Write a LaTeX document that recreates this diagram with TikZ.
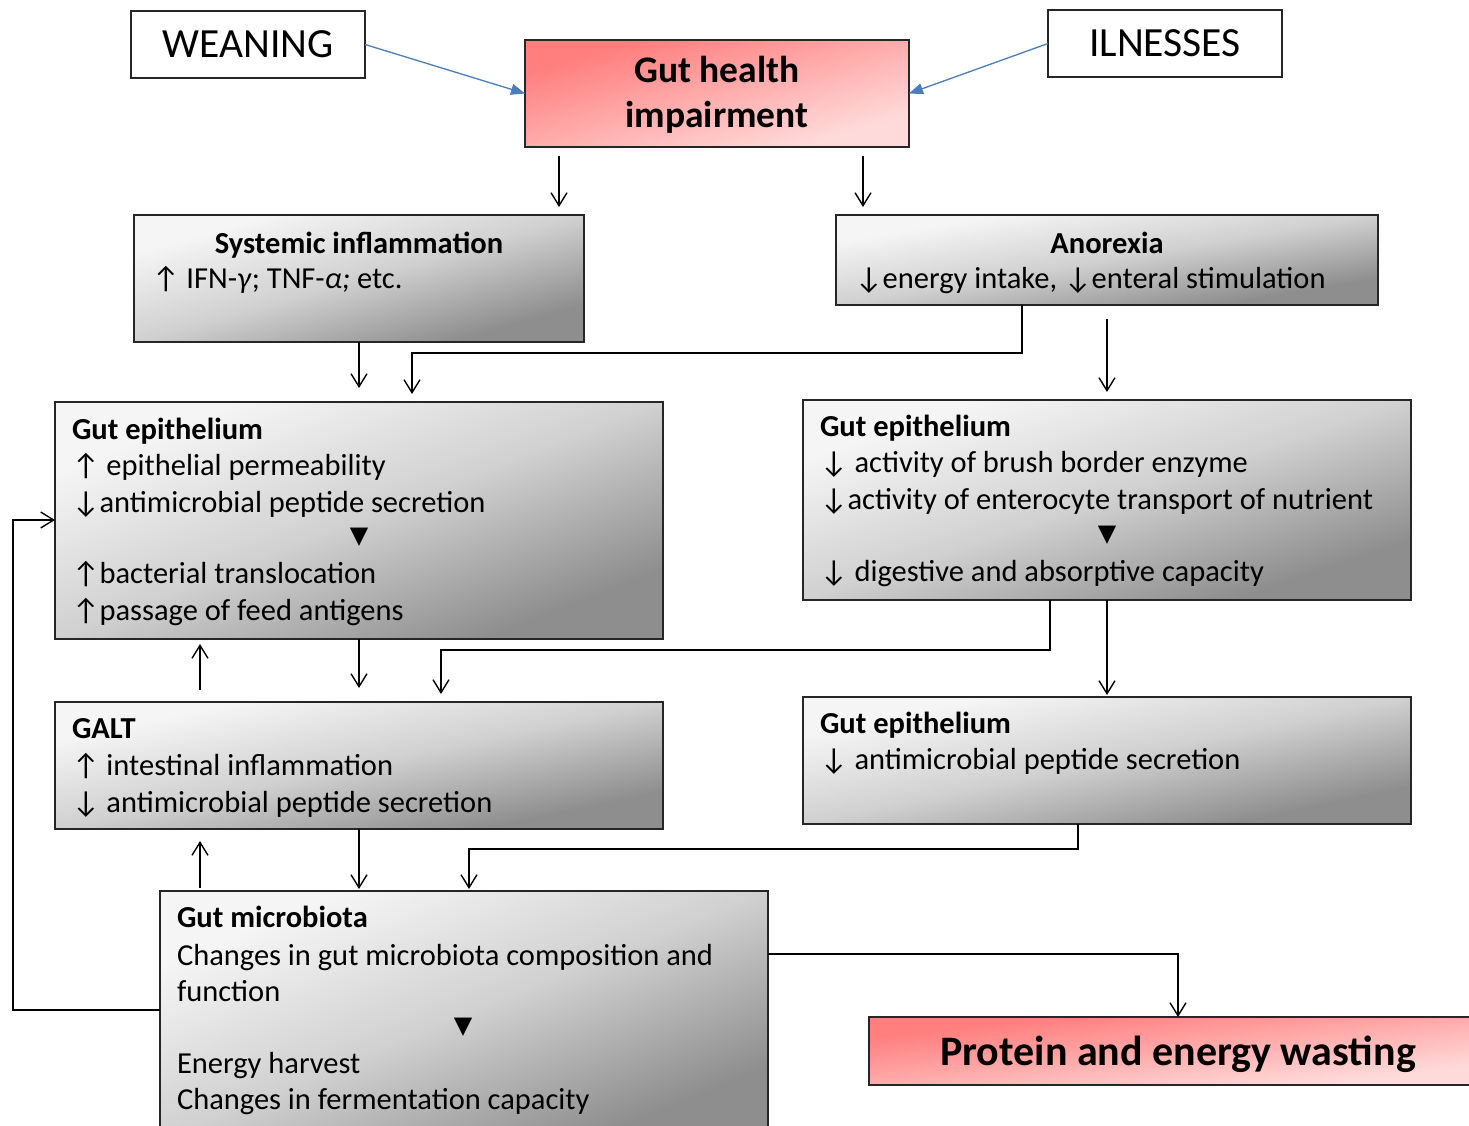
\documentclass[tikz,border=0pt]{standalone}
\usepackage{fontspec}
\setmainfont{Carlito}
\newfontfamily\dejavu{DejaVu Sans}
\usetikzlibrary{arrows.meta}
\definecolor{rtl}{RGB}{255,126,126}
\definecolor{rmid}{RGB}{255,172,172}
\definecolor{rbr}{RGB}{255,218,218}
\definecolor{gtl}{RGB}{245,245,245}
\definecolor{gmid}{RGB}{208,208,208}
\definecolor{gbr}{RGB}{142,142,142}
\definecolor{blueline}{RGB}{74,126,187}
\newcommand{\up}{↑}
\newcommand{\dn}{↓}
\newcommand{\tri}{{\dejavu ▼}}
\newcommand{\boxshade}[5]{%
  \shade[#1, transform canvas={shift={(#2,#3)}, xscale=#4/100, yscale=#5/100}] (0,0) rectangle (100,100);}
\begin{document}
\begin{tikzpicture}[x=1pt,y=-1pt,
  box/.style={draw=black!85, line width=1.4pt, inner sep=0pt, outer sep=0pt, anchor=north west},
  grayshade/.style={top color=gtl, bottom color=gbr, middle color=gmid, shading angle=45},
  redshade/.style={top color=rtl, bottom color=rbr, middle color=rmid, shading angle=45},
  plainbox/.style={box, fill=white},
  txt/.style={inner sep=0pt, outer sep=0pt, anchor=base west, font=\fontsize{30.5}{36}\selectfont},
  ttl/.style={txt, font=\fontsize{30.5}{36}\selectfont\bfseries},
  ctr/.style={inner sep=0pt, outer sep=0pt, anchor=center, font=\fontsize{24}{28}\selectfont},
  arr/.style={line width=1.4pt, -{Straight Barb[length=13pt,width=16pt,line width=1.4pt]}},
  barr/.style={draw=blueline, line width=1.3pt, -{Triangle[length=14pt,width=11pt]}}
]
\useasboundingbox (0,0) rectangle (1469,1126);
\fill[white] (0,0) rectangle (1469,1126);

% box shadings
\boxshade{redshade}{525}{40}{384}{107}
\boxshade{grayshade}{134}{215}{450}{127}
\boxshade{grayshade}{836}{215}{542}{90}
\boxshade{grayshade}{55}{402}{608}{237}
\boxshade{grayshade}{803}{400}{608}{200}
\boxshade{grayshade}{55}{702}{608}{127}
\boxshade{grayshade}{803}{697}{608}{127}
\boxshade{grayshade}{160}{891}{608}{249}
\boxshade{redshade}{869}{1017}{618}{68}

% boxes
\node[plainbox, minimum width=234, minimum height=67] (wean) at (131,11) {};
\node[plainbox, minimum width=234, minimum height=67] (ill) at (1048,10) {};
\node[box, minimum width=384, minimum height=107] (gh) at (525,40) {};
\node[box, minimum width=450, minimum height=127] (sys) at (134,215) {};
\node[box, minimum width=542, minimum height=90] (an) at (836,215) {};
\node[box, minimum width=608, minimum height=237] (ep1) at (55,402) {};
\node[box, minimum width=608, minimum height=200] (ep2) at (803,400) {};
\node[box, minimum width=608, minimum height=127] (galt) at (55,702) {};
\node[box, minimum width=608, minimum height=127] (ep3) at (803,697) {};
\node[box, minimum width=608, minimum height=249] (mic) at (160,891) {};
\node[box, minimum width=618, minimum height=68] (prot) at (869,1017) {};

% texts
\node[inner sep=0pt, font=\fontsize{41.5}{48}\selectfont] (weant) at (wean.center) {WEANING};
\node[inner sep=0pt, font=\fontsize{41.5}{48}\selectfont] (illt) at (ill.center) {ILNESSES};
\node[inner sep=0pt, anchor=base, font=\fontsize{37.5}{44}\selectfont\bfseries] (gh1) at (717,83) {Gut health};
\node[inner sep=0pt, anchor=base, font=\fontsize{37.5}{44}\selectfont\bfseries] (gh2) at (717,128) {impairment};

\node[ttl, anchor=base] (sys1) at (359,253) {Systemic inflammation};
\node[txt] (sys2) at (152,288) {\up\ IFN-\textit{γ}; TNF-\textit{α;} etc.};

\node[ttl, anchor=base] (an1) at (1107,253) {Anorexia};
\node[txt] (an2) at (855,288) {\dn energy intake, \dn enteral stimulation};

\node[ttl] (e1a) at (72,439) {Gut epithelium};
\node[txt] (e1b) at (72,475) {\up\ epithelial permeability};
\node[txt] (e1c) at (72,512) {\dn antimicrobial peptide secretion};
\node[ctr] (e1t) at (359,537) {\tri};
\node[txt] (e1d) at (72,583) {\up bacterial translocation};
\node[txt] (e1e) at (72,620) {\up passage of feed antigens};

\node[ttl] (e2a) at (820,436) {Gut epithelium};
\node[txt] (e2b) at (820,472) {\dn\ activity of brush border enzyme};
\node[txt] (e2c) at (820,509) {\dn activity of enterocyte transport of nutrient};
\node[ctr] (e2t) at (1107,535) {\tri};
\node[txt] (e2d) at (820,581) {\dn\ digestive and absorptive capacity};

\node[ttl] (g1) at (72,738) {GALT};
\node[txt] (g2) at (72,775) {\up\ intestinal inflammation};
\node[txt] (g3) at (72,812) {\dn\ antimicrobial peptide secretion};

\node[ttl] (e3a) at (820,733) {Gut epithelium};
\node[txt] (e3b) at (820,769) {\dn\ antimicrobial peptide secretion};

\node[ttl] (m1) at (177,927) {Gut microbiota};
\node[txt] (m2) at (177,965) {Changes in gut microbiota composition and};
\node[txt] (m3) at (177,1001) {function};
\node[ctr] (mt) at (463,1027) {\tri};
\node[txt] (m4) at (177,1073) {Energy harvest};
\node[txt] (m5) at (177,1109) {Changes in fermentation capacity};

\node[inner sep=0pt, anchor=base, font=\fontsize{42}{50}\selectfont\bfseries] (prott) at (1178,1065) {Protein and energy wasting};

% helper coordinates
\coordinate (xa) at (559,0);
\coordinate (xb) at (863,0);
\coordinate (xc) at (1022,0);
\coordinate (xd) at (412,0);
\coordinate (ya) at (0,353);
\coordinate (xe) at (200,0);
\coordinate (xf) at (1050,0);
\coordinate (xg) at (441,0);
\coordinate (yb) at (0,650);
\coordinate (xh) at (359,0);
\coordinate (xi) at (1078,0);
\coordinate (xj) at (469,0);
\coordinate (yc) at (0,849);
\coordinate (yd) at (0,954);
\coordinate (fb) at (13,520);
\coordinate (ye) at (0,1010);

% connectors
\draw[barr] (wean.east) -- (gh.west);
\draw[barr] (ill.west) -- (gh.east);
\draw[arr, shorten <=9pt, shorten >=8pt] (gh.south -| xa) -- (sys.north -| xa);
\draw[arr, shorten <=9pt, shorten >=8pt] (gh.south -| xb) -- (an.north -| xb);
\draw[arr, shorten >=14pt] (sys.south) -- (ep1.north);
\draw[arr, shorten >=8pt] (an.south -| xc) -- (ya -| xc) -- (ya -| xd) -- (ep1.north -| xd);
\draw[arr, shorten <=14pt, shorten >=8pt] (an.south) -- (ep2.north);
\draw[arr, shorten >=14pt] (ep1.south) -- (galt.north);
\draw[arr, shorten <=12pt, shorten >=5pt] (galt.north -| xe) -- (ep1.south -| xe);
\draw[arr, shorten >=8pt] (ep2.south -| xf) -- (yb -| xf) -- (yb -| xg) -- (galt.north -| xg);
\draw[arr, shorten >=2pt] (ep2.south) -- (ep3.north);
\draw[arr, shorten >=2pt] (galt.south -| xh) -- (mic.north -| xh);
\draw[arr, shorten <=3pt, shorten >=12pt] (mic.north -| xe) -- (galt.south -| xe);
\draw[arr, shorten >=2pt] (ep3.south -| xi) -- (yc -| xi) -- (yc -| xj) -- (mic.north -| xj);
\draw[arr] (mic.east |- yd) -| (prot.north);
\draw[arr] (mic.west |- ye) -| (fb) -- (ep1.west |- fb);
\end{tikzpicture}
\end{document}
